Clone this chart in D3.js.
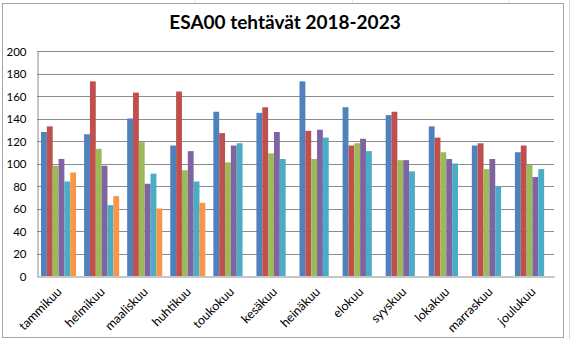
<!DOCTYPE html>
<html>
<head>
<meta charset="utf-8">
<script src="https://cdn.jsdelivr.net/npm/d3@7"></script>
<style>
  html, body { margin: 0; padding: 0; background: #fff; }
  svg { display: block; }
</style>
</head>
<body>
<svg id="chart" width="570" height="339"></svg>
<script>
// Monthly ESA00 task counts per year
const months = ["tammikuu", "helmikuu", "maaliskuu", "huhtikuu", "toukokuu", "kesäkuu",
                "heinäkuu", "elokuu", "syyskuu", "lokakuu", "marraskuu", "joulukuu"];
const years = ["2018", "2019", "2020", "2021", "2022", "2023"];

const v2018 = [128, 126, 140, 116, 146, 145, 173, 150, 143, 133, 116, 110];
const v2019 = [133, 173, 163, 164, 127, 150, 129, 116, 146, 123, 118, 116];
const v2020 = [98, 113, 119, 94, 101, 109, 104, 118, 103, 110, 95, 99];
const v2021 = [104, 98, 82, 111, 116, 128, 130, 122, 103, 104, 104, 88];
const v2022 = [84, 63, 91, 84, 118, 104, 123, 111, 93, 100, 80, 95];
const v2023 = [92, 71, 60, 65, null, null, null, null, null, null, null, null];

const yTicks = [0, 20, 40, 60, 80, 100, 120, 140, 160, 180, 200];
const seriesValues = [v2018, v2019, v2020, v2021, v2022, v2023];
const colors = ["#4F81BD", "#C0504D", "#9BBB59", "#8064A2", "#4BACC6", "#F79646"];

const svg = d3.select("#chart");
const W = 570, H = 339;
const plot = { left: 37, right: 554, top: 51, bottom: 276 };
const font = "Lato, 'Open Sans', sans-serif";

// Surrounding worksheet cells
const cellX = [195, 352, 508, 569];
svg.selectAll("line.cell")
  .data(cellX).enter().append("line")
  .attr("x1", d => d + 0.5).attr("x2", d => d + 0.5)
  .attr("y1", 0).attr("y2", 3)
  .attr("stroke", "#e2e2e2");
svg.append("line")
  .attr("x1", 569.5).attr("x2", 569.5).attr("y1", 0).attr("y2", H)
  .attr("stroke", "#d8d8d8");

// Chart frame
svg.append("rect")
  .attr("x", 2.5).attr("y", 3.5)
  .attr("width", 561).attr("height", 334)
  .attr("fill", "#fff")
  .attr("stroke", "#a6a6a6")
  .attr("stroke-width", 1);

// Title
svg.append("text")
  .attr("x", 285).attr("y", 29)
  .attr("text-anchor", "middle")
  .attr("font-family", font)
  .attr("font-weight", "bold")
  .attr("font-size", 19)
  .attr("fill", "#000")
  .text("ESA00 tehtävät 2018-2023");

const x = d3.scaleBand()
  .domain(months)
  .range([plot.left, plot.right])
  .paddingInner(0.186)
  .paddingOuter(0.093);

const xs = d3.scaleBand()
  .domain(years)
  .range([0, x.bandwidth()]);

const y = d3.scaleLinear()
  .domain([0, 200])
  .range([plot.bottom, plot.top]);

// Horizontal gridlines
svg.append("g")
  .selectAll("line")
  .data(yTicks.filter(t => t > 0))
  .enter().append("line")
  .attr("x1", plot.left).attr("x2", plot.right)
  .attr("y1", d => Math.round(y(d)) + 0.5)
  .attr("y2", d => Math.round(y(d)) + 0.5)
  .attr("stroke", "#8c8c8c")
  .attr("stroke-width", 1);

// Y axis
const yAxis = svg.append("g")
  .attr("transform", `translate(${plot.left + 0.5},0.5)`)
  .call(d3.axisLeft(y).tickValues(yTicks).tickSize(0).tickPadding(11));
yAxis.select(".domain").attr("stroke", "#8c8c8c");
yAxis.selectAll("text")
  .attr("font-family", font)
  .attr("font-size", 11.5)
  .attr("fill", "#000");

// Bars
const groups = svg.append("g")
  .selectAll("g")
  .data(months.map((m, i) => ({ m, vals: seriesValues.map((s, k) => ({ year: years[k], v: s[i], c: colors[k] })) })))
  .enter().append("g")
  .attr("transform", d => `translate(${x(d.m)},0)`);

groups.selectAll("rect")
  .data(d => d.vals.filter(e => e.v != null))
  .enter().append("rect")
  .attr("x", d => xs(d.year))
  .attr("width", xs.bandwidth())
  .attr("y", d => y(d.v))
  .attr("height", d => y(0) - y(d.v))
  .attr("fill", d => d.c);

// X axis with slanted month names
const xAxis = svg.append("g")
  .attr("transform", `translate(0,${plot.bottom + 0.5})`)
  .call(d3.axisBottom(x).tickSize(0));
xAxis.select(".domain").attr("stroke", "#8c8c8c");
xAxis.selectAll("text")
  .attr("font-family", font)
  .attr("font-size", 12.5)
  .attr("fill", "#000")
  .attr("text-anchor", "end")
  .attr("y", 0)
  .attr("dy", 0)
  .attr("transform", "translate(4,16) rotate(-45)");
</script>
</body>
</html>
